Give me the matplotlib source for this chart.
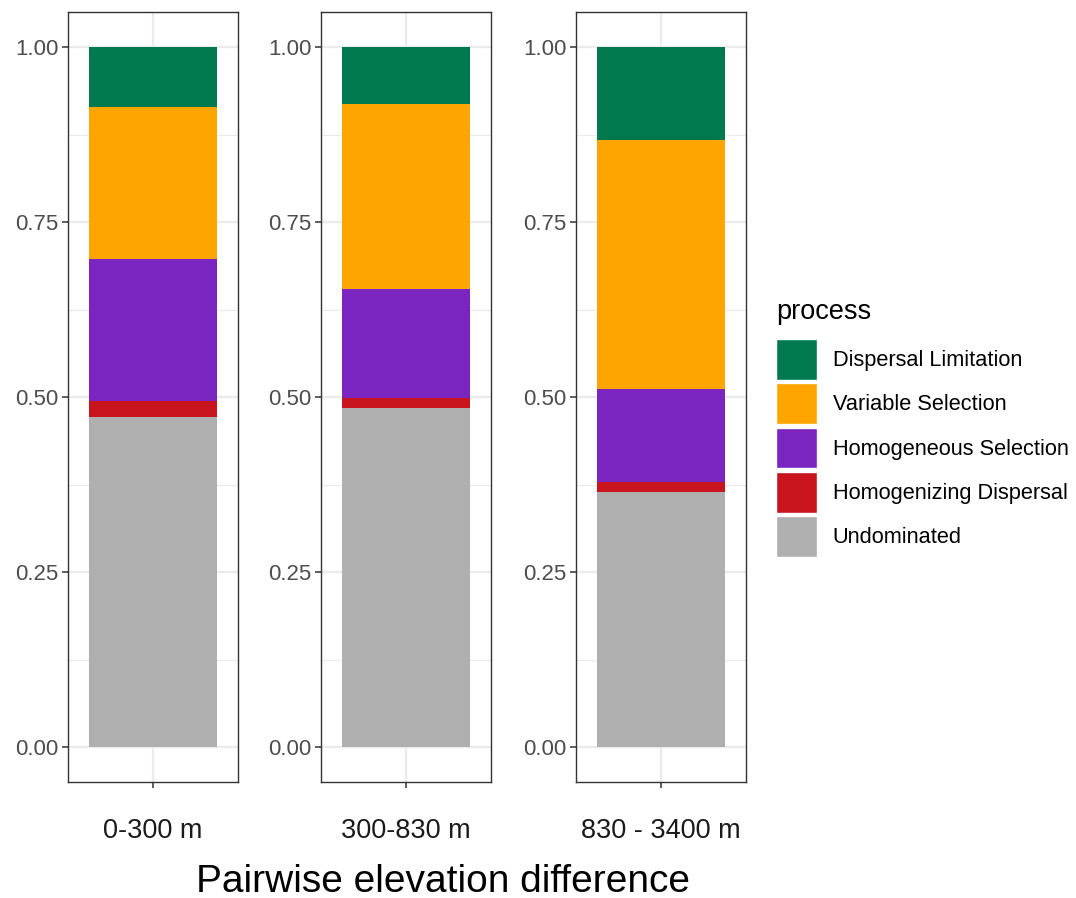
import matplotlib
matplotlib.use("Agg")
import matplotlib.pyplot as plt
from matplotlib.patches import Patch
import numpy as np

plt.rcParams["font.family"] = ["Liberation Sans", "DejaVu Sans"]

# --- data (stack order bottom -> top) ---
CATEGORIES = ["0-300 m", "300-830 m", "830 - 3400 m"]
PROCESSES = ["Undominated", "Homogenizing Dispersal", "Homogeneous Selection",
             "Variable Selection", "Dispersal Limitation"]
UNDOMINATED = [0.472, 0.485, 0.364]
HOMOGENIZING_DISPERSAL = [0.022, 0.013, 0.014]
HOMOGENEOUS_SELECTION = [0.203, 0.156, 0.134]
VARIABLE_SELECTION = [0.217, 0.265, 0.355]
DISPERSAL_LIMITATION = [0.086, 0.081, 0.133]

COLORS = {
    "Dispersal Limitation": "#00794F",
    "Variable Selection": "#FFA500",
    "Homogeneous Selection": "#7B25C1",
    "Homogenizing Dispersal": "#C8151D",
    "Undominated": "#AFAFAF",
}

series = [UNDOMINATED, HOMOGENIZING_DISPERSAL, HOMOGENEOUS_SELECTION,
          VARIABLE_SELECTION, DISPERSAL_LIMITATION]

W, H = 1076, 898
fig = plt.figure(figsize=(W / 100, H / 100), dpi=100)

panel_lefts = [68, 321, 576]
panel_w, panel_bottom, panel_h = 170, 116, 770

for i, cat in enumerate(CATEGORIES):
    ax = fig.add_axes([panel_lefts[i] / W, panel_bottom / H, panel_w / W, panel_h / H])
    bottom = 0.0
    for name, vals in zip(PROCESSES, series):
        ax.bar(0, vals[i], bottom=bottom, width=0.9, color=COLORS[name], zorder=3)
        bottom += vals[i]

    ax.set_xlim(-0.6, 0.6)
    ax.set_ylim(-0.05, 1.05)
    ax.set_xticks([0])
    ax.set_xticklabels([cat])
    ax.set_yticks([0, 0.25, 0.5, 0.75, 1.0])
    ax.set_yticklabels(["0.00", "0.25", "0.50", "0.75", "1.00"])
    ax.set_yticks([0.125, 0.375, 0.625, 0.875], minor=True)

    ax.grid(True, which="major", color="#EBEBEB", linewidth=1.6, zorder=0)
    ax.grid(True, which="minor", axis="y", color="#EBEBEB", linewidth=0.8, zorder=0)
    ax.set_axisbelow(True)

    ax.tick_params(axis="y", which="major", length=4, width=1.1, color="#333333",
                   labelsize=16, labelcolor="#4D4D4D", pad=3)
    ax.tick_params(axis="y", which="minor", length=0)
    ax.tick_params(axis="x", length=4, width=1.1, color="#333333",
                   labelsize=19.5, labelcolor="#1A1A1A", pad=22)
    for sp in ax.spines.values():
        sp.set_color("#333333")
        sp.set_linewidth(1.0)

fig.text(443 / W, 1 - 882 / H, "Pairwise elevation difference",
         ha="center", va="center", fontsize=28, color="black")

# legend: title drawn separately for control over spacing
fig.text(776 / W, 1 - 319 / H, "process", ha="left", va="baseline",
         fontsize=19.5, color="black")
handles = [Patch(facecolor=COLORS[n], edgecolor="white", linewidth=1.0)
           for n in PROCESSES[::-1]]
leg = fig.legend(handles, PROCESSES[::-1],
                 loc="upper left", bbox_to_anchor=(776 / W, 1 - 339 / H),
                 frameon=False, fontsize=15.7,
                 handlelength=1.88, handleheight=2.5, labelspacing=0.16,
                 handletextpad=0.72, borderpad=0, borderaxespad=0)

fig.savefig("out.png", dpi=100)
